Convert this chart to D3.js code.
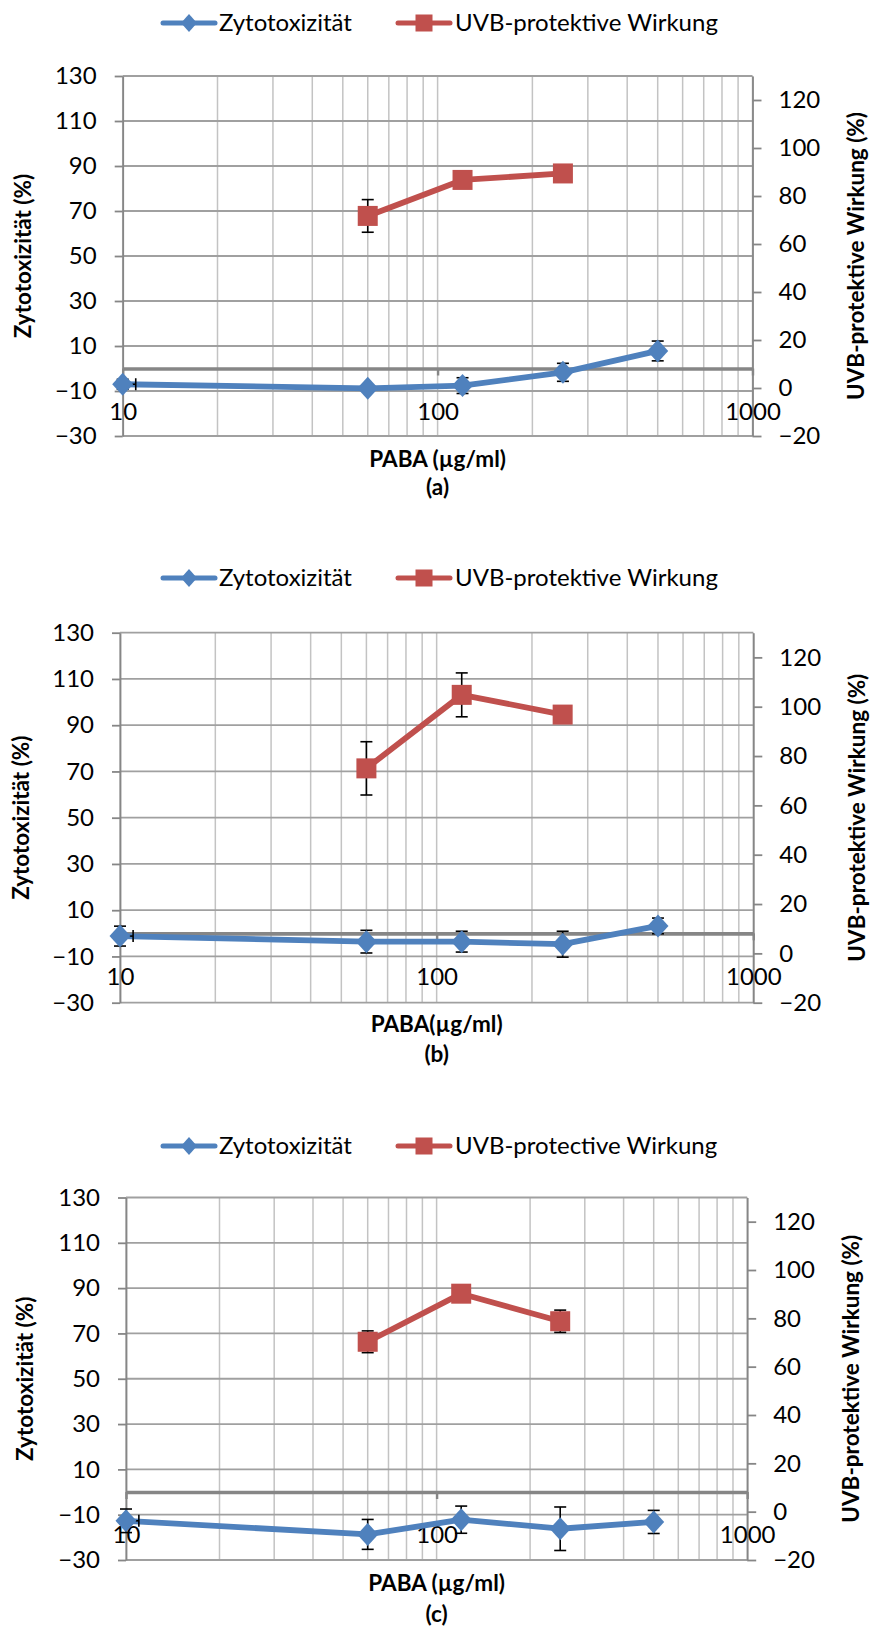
<!DOCTYPE html>
<html>
<head>
<meta charset="utf-8">
<script src="https://cdn.jsdelivr.net/npm/d3@7"></script>
<style>
  body { margin: 0; background: #fff; }
  svg { display: block; }
  text { font-family: Lato, "Open Sans", sans-serif; fill: #000; }
</style>
</head>
<body>
<svg id="fig" width="872" height="1629"></svg>
<script>
// PABA concentrations (µg/ml)
const concZyto = [10, 60, 120, 250, 500];
const concUvb = [60, 120, 250];
// fixed horizontal error (µg/ml) on every point
const xErrFixed = 1;

// Zytotoxizität (%) with error, panels a, b, c
const zytoA = [-7.0, -8.8, -7.6, -1.7, 7.8];
const zytoErrA = [2.2, 1.2, 3.5, 4.0, 4.4];
const zytoB = [-1.2, -3.6, -3.6, -4.7, 3.2];
const zytoErrB = [4.3, 4.9, 4.5, 5.6, 3.4];
const zytoC = [-12.7, -18.7, -12.2, -16.2, -13.2];
const zytoErrC = [5.2, 6.6, 6.0, 9.6, 5.1];

// UVB-protektive Wirkung (%) with error, panels a, b, c
const uvbA = [71.7, 86.7, 89.4];
const uvbErrA = [6.8, 2.5, 2.5];
const uvbB = [75.0, 104.8, 96.8];
const uvbErrB = [10.8, 8.9, 2.5];
const uvbC = [70.3, 90.2, 78.8];
const uvbErrC = [4.5, 2.0, 4.6];

// axes
const xTickValues = [10, 100, 1000];
const leftTickValues = [-30, -10, 10, 30, 50, 70, 90, 110, 130];
const rightTickValues = [-20, 0, 20, 40, 60, 80, 100, 120];

// texts
const panelTags = ["(a)", "(b)", "(c)"];
const xTitles = ["PABA (µg/ml)", "PABA(µg/ml)", "PABA (µg/ml)"];
const zytoNames = ["Zytotoxizität", "Zytotoxizität", "Zytotoxizität"];
const uvbNames = ["UVB-protektive Wirkung", "UVB-protektive Wirkung", "UVB-protective Wirkung"];
const leftTitle = "Zytotoxizität (%)";
const rightTitle = "UVB-protektive Wirkung (%)";

const BLUE = "#4F81BD";
const RED = "#C0504D";
const AXIS_GRAY = "#868686";
const FONT = 24;

// panel frames on the page
const frames = [
  { left: 122.7, right: 752.5, top: 76,    bottom: 436,    legendY: 23,   xTitleY: 459,  tagY: 487,  leftTitleX: 23, rightTitleX: 856 },
  { left: 120,   right: 753.3, top: 632.7, bottom: 1002.7, legendY: 578,  xTitleY: 1024, tagY: 1054, leftTitleX: 21, rightTitleX: 857 },
  { left: 126,   right: 747.2, top: 1197.5, bottom: 1560,  legendY: 1146, xTitleY: 1583, tagY: 1614, leftTitleX: 25, rightTitleX: 851 }
];

const panelData = [
  { zyto: zytoA, zytoErr: zytoErrA, uvb: uvbA, uvbErr: uvbErrA },
  { zyto: zytoB, zytoErr: zytoErrB, uvb: uvbB, uvbErr: uvbErrB },
  { zyto: zytoC, zytoErr: zytoErrC, uvb: uvbC, uvbErr: uvbErrC }
];

const svg = d3.select("#fig");
svg.append("rect").attr("width", 872).attr("height", 1629).attr("fill", "#fff");

const diamondPath = (r) => `M0,${-r - 1}L${r},0L0,${r + 1}L${-r},0Z`;

function drawPanel(i) {
  const f = frames[i];
  const d = panelData[i];
  const g = svg.append("g").attr("class", "panel-" + i);

  const x = d3.scaleLog().domain([10, 1000]).range([f.left, f.right]);
  const yL = d3.scaleLinear().domain([-30, 130]).range([f.bottom, f.top]);
  const yR = d3.scaleLinear().domain([-20, 130]).range([f.bottom, f.top]);

  // vertical grid (log decades with minor steps)
  const vGrid = [];
  for (const dec of [10, 100]) for (let k = 1; k <= 9; k++) vGrid.push(dec * k);
  vGrid.push(1000);
  g.append("g").selectAll("line").data(vGrid).join("line")
    .attr("x1", v => x(v)).attr("x2", v => x(v))
    .attr("y1", f.top).attr("y2", f.bottom)
    .attr("stroke", "#c3c3c3").attr("stroke-width", 1.5);

  // horizontal grid
  g.append("g").selectAll("line").data(leftTickValues).join("line")
    .attr("x1", f.left).attr("x2", f.right)
    .attr("y1", v => yL(v)).attr("y2", v => yL(v))
    .attr("stroke", "#a0a0a0").attr("stroke-width", 1.8);

  // left value axis
  const axL = g.append("g").attr("transform", `translate(${f.left},0)`)
    .call(d3.axisLeft(yL).tickValues(leftTickValues).tickSize(8).tickSizeOuter(0).tickPadding(18).tickFormat(d3.format("d")));
  axL.select(".domain").attr("stroke", AXIS_GRAY).attr("stroke-width", 1.8);
  axL.selectAll(".tick line").attr("stroke", AXIS_GRAY).attr("stroke-width", 1.8);
  axL.selectAll(".tick text").attr("font-size", FONT).attr("font-family", "Lato").attr("fill", "#000");

  // right value axis
  const axR = g.append("g").attr("transform", `translate(${f.right},0)`)
    .call(d3.axisRight(yR).tickValues(rightTickValues).tickSize(9).tickSizeOuter(0).tickPadding(17).tickFormat(d3.format("d")));
  axR.select(".domain").attr("stroke", AXIS_GRAY).attr("stroke-width", 1.8);
  axR.selectAll(".tick line").attr("stroke", AXIS_GRAY).attr("stroke-width", 1.8);
  axR.selectAll(".tick text").attr("font-size", FONT).attr("font-family", "Lato").attr("fill", "#000");

  // category axis crossing at zero
  const axX = g.append("g").attr("transform", `translate(0,${yL(0)})`)
    .call(d3.axisBottom(x).tickValues(xTickValues).tickSize(7).tickSizeOuter(0).tickFormat(d3.format("d")));
  axX.select(".domain").attr("stroke", AXIS_GRAY).attr("stroke-width", 3.6);
  axX.selectAll(".tick line").attr("stroke", AXIS_GRAY).attr("stroke-width", 2.4);
  axX.selectAll(".tick text").attr("font-size", FONT).attr("font-family", "Lato").attr("fill", "#000")
    .attr("y", 43).attr("dy", "0.35em");

  const zytoPts = concZyto.map((c, k) => ({ c, v: d.zyto[k], e: d.zytoErr[k], y: yL }));
  const uvbPts = concUvb.map((c, k) => ({ c, v: d.uvb[k], e: d.uvbErr[k], y: yR }));

  const line = (ys) => d3.line().x(p => x(p.c)).y(p => ys(p.v));

  g.append("path").datum(zytoPts).attr("d", line(yL)).attr("fill", "none")
    .attr("stroke", BLUE).attr("stroke-width", 5.8).attr("stroke-linejoin", "round");
  g.append("path").datum(uvbPts).attr("d", line(yR)).attr("fill", "none")
    .attr("stroke", RED).attr("stroke-width", 5.8).attr("stroke-linejoin", "round");

  // error bars
  const eb = g.append("g").attr("stroke", "#000").attr("stroke-width", 1.6).attr("fill", "none");
  const cap = 6;
  for (const p of zytoPts.concat(uvbPts)) {
    const cx = x(p.c), lo = p.y(p.v - p.e), hi = p.y(p.v + p.e), cy = p.y(p.v);
    eb.append("line").attr("x1", cx).attr("x2", cx).attr("y1", lo).attr("y2", hi);
    eb.append("line").attr("x1", cx - cap).attr("x2", cx + cap).attr("y1", lo).attr("y2", lo);
    eb.append("line").attr("x1", cx - cap).attr("x2", cx + cap).attr("y1", hi).attr("y2", hi);
    const xl = Math.max(p.c - xErrFixed, 10), xr = Math.min(p.c + xErrFixed, 1000);
    eb.append("line").attr("x1", x(xl)).attr("x2", x(xr)).attr("y1", cy).attr("y2", cy);
    if (p.c - xErrFixed >= 10) eb.append("line").attr("x1", x(p.c - xErrFixed)).attr("x2", x(p.c - xErrFixed)).attr("y1", cy - cap).attr("y2", cy + cap);
    if (p.c + xErrFixed <= 1000) eb.append("line").attr("x1", x(p.c + xErrFixed)).attr("x2", x(p.c + xErrFixed)).attr("y1", cy - cap).attr("y2", cy + cap);
  }

  // markers
  g.append("g").selectAll("path").data(zytoPts).join("path")
    .attr("d", diamondPath(10.5))
    .attr("transform", p => `translate(${x(p.c)},${yL(p.v)})`)
    .attr("fill", BLUE);
  g.append("g").selectAll("rect").data(uvbPts).join("rect")
    .attr("x", p => x(p.c) - 10).attr("y", p => yR(p.v) - 10)
    .attr("width", 20).attr("height", 20)
    .attr("fill", RED);

  // legend
  const lg = g.append("g").attr("transform", `translate(0,${f.legendY})`);
  lg.append("line").attr("x1", 163).attr("x2", 215).attr("y1", 0).attr("y2", 0)
    .attr("stroke", BLUE).attr("stroke-width", 5).attr("stroke-linecap", "round");
  lg.append("path").attr("d", diamondPath(8)).attr("transform", "translate(189,0)").attr("fill", BLUE);
  lg.append("text").attr("x", 219).attr("y", 0).attr("dy", "0.35em").attr("font-size", FONT).text(zytoNames[i]);
  lg.append("line").attr("x1", 398).attr("x2", 450).attr("y1", 0).attr("y2", 0)
    .attr("stroke", RED).attr("stroke-width", 5).attr("stroke-linecap", "round");
  lg.append("rect").attr("x", 415.5).attr("y", -8.5).attr("width", 17).attr("height", 17).attr("fill", RED);
  lg.append("text").attr("x", 455).attr("y", 0).attr("dy", "0.35em").attr("font-size", FONT).text(uvbNames[i]);

  // axis titles
  const midY = (f.top + f.bottom) / 2;
  const midX = (f.left + f.right) / 2;
  g.append("text").attr("transform", `translate(${f.leftTitleX},${midY}) rotate(-90)`)
    .attr("text-anchor", "middle").attr("dy", "0.35em").attr("font-size", 22.5).attr("font-weight", 700).text(leftTitle);
  g.append("text").attr("transform", `translate(${f.rightTitleX},${midY}) rotate(-90)`)
    .attr("text-anchor", "middle").attr("dy", "0.35em").attr("font-size", 22.5).attr("font-weight", 700).text(rightTitle);
  g.append("text").attr("x", midX).attr("y", f.xTitleY).attr("text-anchor", "middle").attr("dy", "0.35em")
    .attr("font-size", 22.5).attr("font-weight", 700).text(xTitles[i]);
  g.append("text").attr("x", midX).attr("y", f.tagY).attr("text-anchor", "middle").attr("dy", "0.35em")
    .attr("font-size", 22.5).attr("font-weight", 700).text(panelTags[i]);
}

[0, 1, 2].forEach(drawPanel);
</script>
</body>
</html>
